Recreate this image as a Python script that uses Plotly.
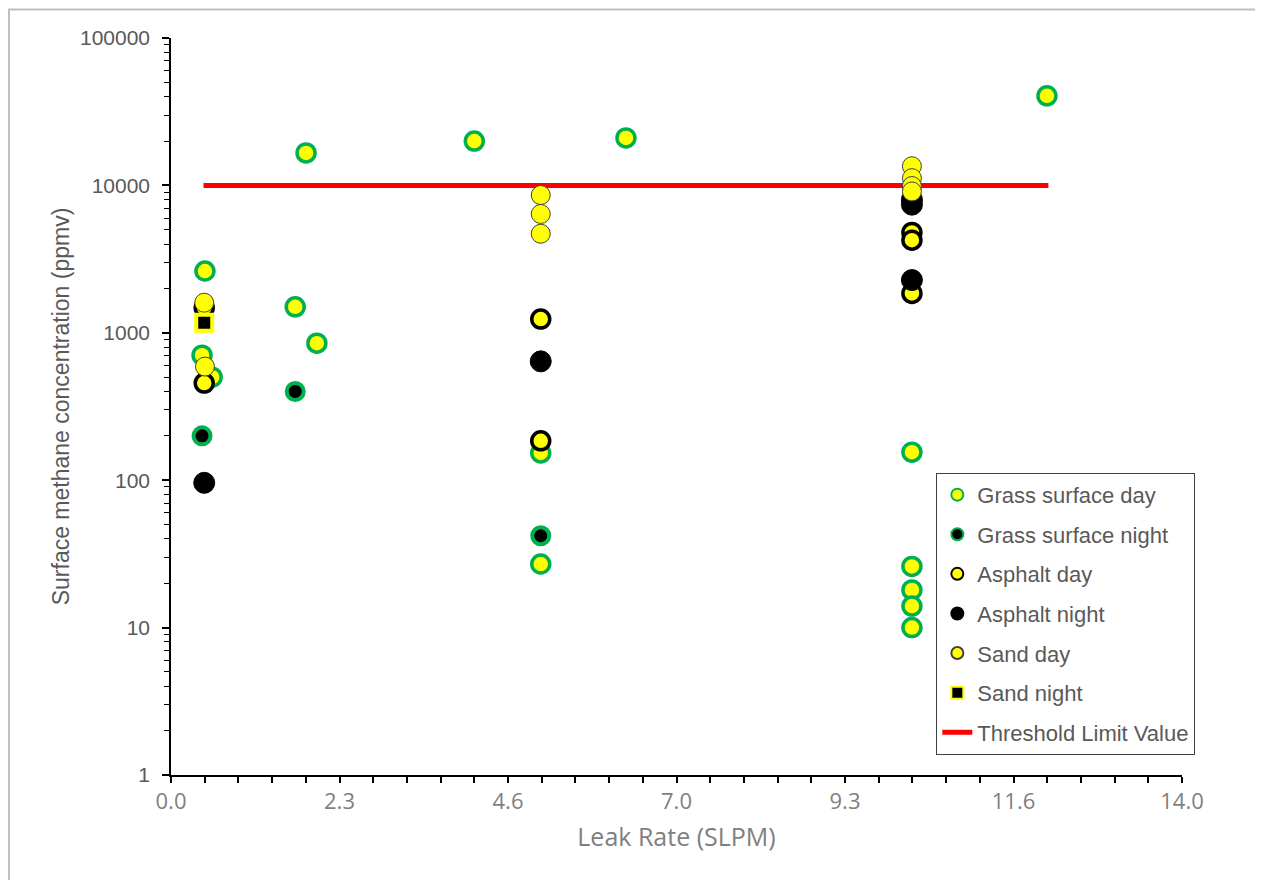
import plotly.graph_objects as go

# Data (x = leak rate SLPM, y = surface methane concentration ppmv)
grass_day_x = [0.47, 0.43, 0.57, 1.72, 1.87, 2.02, 4.20, 6.30, 12.13, 5.12, 5.12, 10.26, 10.26, 10.26, 10.26, 10.26]
grass_day_y = [2625, 705, 500, 1500, 16600, 850, 20000, 21000, 40500, 153, 27, 155, 26, 18, 14, 10]

grass_night_x = [0.43, 1.72, 5.12]
grass_night_y = [200, 400, 42]

asphalt_day_x = [0.46, 0.46, 5.12, 5.12, 10.26, 10.26, 10.26]
asphalt_day_y = [456, 1480, 1240, 185, 4800, 4250, 1850]

asphalt_night_x = [0.46, 5.12, 10.26, 10.26, 10.26]
asphalt_night_y = [96, 640, 2280, 8000, 7400]

sand_day_x = [0.46, 0.47, 5.12, 5.12, 5.12, 10.26, 10.26, 10.26, 10.26]
sand_day_y = [1600, 590, 8600, 6400, 4700, 13500, 11200, 9900, 9100]

sand_night_x = [0.46]
sand_night_y = [1170]

threshold_x = [0.45, 12.15]
threshold_y = [10000, 10000]

x_tick_vals = [0, 14/6, 28/6, 7, 56/6, 70/6, 14]
x_tick_text = ["0.0", "2.3", "4.6", "7.0", "9.3", "11.6", "14.0"]
y_tick_vals = [1, 10, 100, 1000, 10000, 100000]
y_tick_text = ["1", "10", "100", "1000", "10000", "100000"]

GREEN = "#00B050"
YELLOW = "#FFFF00"

fig = go.Figure()

fig.add_trace(go.Scatter(x=threshold_x, y=threshold_y, mode="lines", name="Threshold Limit Value",
                         line=dict(color="#FF0000", width=5), legendrank=2000, legendgroup="g7"))

fig.add_trace(go.Scatter(x=grass_day_x, y=grass_day_y, mode="markers", name="Grass surface day",
                         marker=dict(symbol="circle", size=18, color=YELLOW, line=dict(color=GREEN, width=3.5)),
                         legendgroup="g1"))
fig.add_trace(go.Scatter(x=grass_night_x, y=grass_night_y, mode="markers", name="Grass surface night",
                         marker=dict(symbol="circle", size=17, color="black", line=dict(color=GREEN, width=4)),
                         legendgroup="g2"))
fig.add_trace(go.Scatter(x=asphalt_day_x, y=asphalt_day_y, mode="markers", name="Asphalt day",
                         marker=dict(symbol="circle", size=18, color=YELLOW, line=dict(color="black", width=3.5)),
                         legendgroup="g3"))
fig.add_trace(go.Scatter(x=asphalt_night_x, y=asphalt_night_y, mode="markers", name="Asphalt night",
                         marker=dict(symbol="circle", size=21, color="black", line=dict(color="black", width=1)),
                         legendgroup="g4"))
fig.add_trace(go.Scatter(x=sand_day_x, y=sand_day_y, mode="markers", name="Sand day",
                         marker=dict(symbol="circle", size=19, color=YELLOW, line=dict(color="#404040", width=1)),
                         legendgroup="g5"))
fig.add_trace(go.Scatter(x=sand_night_x, y=sand_night_y, mode="markers", name="Sand night",
                         marker=dict(symbol="square", size=16, color="black", line=dict(color=YELLOW, width=4)),
                         legendgroup="g6"))

L, T, PW, PH = 163, 30, 1011, 737
W, H = 1255, 872

fig.update_layout(
    width=W, height=H,
    margin=dict(l=L, r=W - L - PW, t=T, b=H - T - PH),
    paper_bgcolor="white", plot_bgcolor="white",
    showlegend=True,
    legend=dict(x=0.757, y=0.41, xanchor="left", yanchor="top",
                bordercolor="#404040", borderwidth=1, bgcolor="white",
                font=dict(family="Liberation Sans, Arial, sans-serif", size=22, color="#595959"),
                itemsizing="constant", tracegroupgap=8, traceorder="grouped",
                entrywidth=255, entrywidthmode="pixels"),
    xaxis=dict(range=[0, 14], tickvals=x_tick_vals, ticktext=x_tick_text,
               ticks="outside", ticklen=6, tickwidth=1.5, tickcolor="black",
               showline=True, linecolor="black", linewidth=1.5, showgrid=False, zeroline=False,
               minor=dict(tickvals=[i * 14 / 30 for i in range(31)], ticks="outside", ticklen=6,
                          tickwidth=1.5, tickcolor="black", showgrid=False),
               tickfont=dict(family="Open Sans, sans-serif", size=22, color="#7f7f7f"),
               title=dict(text="Leak Rate (SLPM)", standoff=14,
                          font=dict(family="Open Sans, sans-serif", size=25, color="#7f7f7f"))),
    yaxis=dict(type="log", range=[0, 5], tickvals=y_tick_vals, ticktext=y_tick_text,
               ticks="outside", ticklen=7, tickwidth=1.5, tickcolor="black", ticklabelstandoff=8,
               showline=True, linecolor="black", linewidth=1.5, showgrid=False, zeroline=False,
               minor=dict(ticks="outside", ticklen=5, tickwidth=1.2, tickcolor="black", dtick="D1", showgrid=False),
               tickfont=dict(family="Liberation Sans, Arial, sans-serif", size=21, color="#595959"),
               title=dict(text="Surface methane concentration (ppmv)", standoff=4,
                          font=dict(family="Liberation Sans, Arial, sans-serif", size=23, color="#595959"))),
    shapes=[dict(type="rect", xref="paper", yref="paper",
                 x0=-L / PW + 0.001, x1=1.2, y0=-0.3, y1=1 + T / PH - 0.002,
                 line=dict(color="#bfbfbf", width=2), layer="below")],
)

fig.write_html("out.html")
